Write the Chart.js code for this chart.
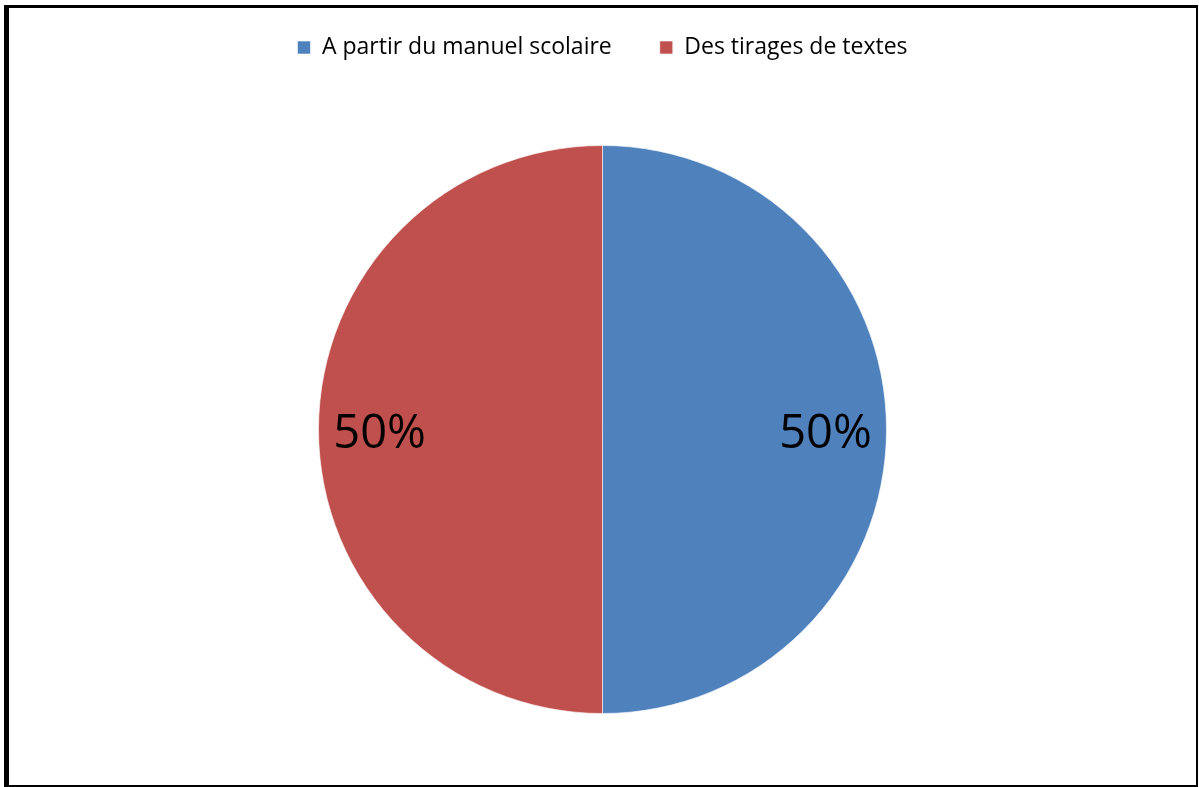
<!DOCTYPE html>
<html>
<head>
<meta charset="utf-8">
<script src="https://cdn.jsdelivr.net/npm/chart.js@4.4.1/dist/chart.umd.min.js"></script>
<style>
  html, body { margin: 0; padding: 0; background: #fff; }
  #frame {
    position: absolute;
    left: 4px; top: 5px;
    width: 1187px; height: 777px;
    border-style: solid;
    border-color: #000;
    border-width: 3px 2px 2px 5px;
    overflow: hidden;
  }
  #wrap { position: relative; width: 1187px; height: 800px; }
</style>
</head>
<body>
<div id="frame"><div id="wrap"><canvas id="pieChart"></canvas></div></div>
<script>
const categories = ["A partir du manuel scolaire", "Des tirages de textes"];
const values = [50, 50];
const colors = ["#4F81BD", "#C0504D"];

// percent labels drawn inside each slice
const percentLabels = {
    id: "percentLabels",
    afterDatasetsDraw(chart) {
        const ctx = chart.ctx;
        const meta = chart.getDatasetMeta(0);
        const total = values.reduce((a, b) => a + b, 0);
        ctx.save();
        ctx.font = "47px 'Open Sans'";
        ctx.fillStyle = "#000";
        ctx.textAlign = "center";
        ctx.textBaseline = "middle";
        meta.data.forEach((arc, i) => {
            const mid = (arc.startAngle + arc.endAngle) / 2;
            const r = arc.outerRadius * 0.785;
            const x = arc.x + Math.cos(mid) * r;
            const y = arc.y + Math.sin(mid) * r;
            ctx.fillText(Math.round(values[i] / total * 100) + "%", x, y + 5);
        });
        ctx.restore();
    }
};

const ctx = document.getElementById("pieChart").getContext("2d");
new Chart(ctx, {
    type: "pie",
    data: {
        labels: categories,
        datasets: [{
            data: values,
            backgroundColor: colors,
            borderColor: "rgba(255,255,255,0.6)",
            borderWidth: 1,
            radius: 284
        }]
    },
    options: {
        responsive: true,
        maintainAspectRatio: false,
        animation: false,
        layout: { padding: { top: -20, bottom: 18 } },
        plugins: {
            legend: {
                position: "top",
                labels: {
                    font: { family: "'Open Sans'", size: 23 },
                    color: "#000",
                    boxWidth: 13,
                    boxHeight: 13,
                    padding: 48
                }
            },
            tooltip: { enabled: false }
        }
    },
    plugins: [percentLabels]
});
</script>
</body>
</html>
